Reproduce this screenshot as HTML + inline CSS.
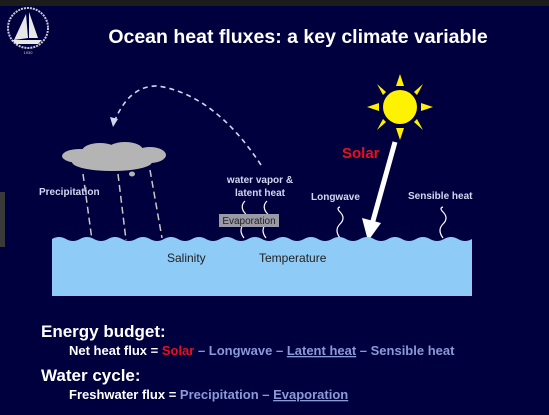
<!DOCTYPE html>
<html><head><meta charset="utf-8"><style>
body{margin:0;width:549px;height:415px;overflow:hidden;background:#00003f;font-family:"Liberation Sans",sans-serif}
svg{display:block}
</style></head><body>
<svg width="549" height="415" viewBox="0 0 549 415">
<rect x="0" y="0" width="549" height="415" fill="#00003f"/>
<rect x="0" y="0" width="549" height="6" fill="#1c1c1c"/>
<rect x="0" y="192" width="5" height="55" fill="#3a3a3a"/>
<g>
<circle cx="28" cy="28" r="20" fill="none" stroke="#c8c8d8" stroke-width="2" stroke-dasharray="2 1"/>
<path d="M14 40 L26 14 L28 38 Z M29 12 L38 38 L29 38 Z" fill="#e8e8e8"/>
<path d="M12 40 L42 40 L38 44 L16 44Z" fill="#e8e8e8"/>
<text x="28" y="54" font-size="4" fill="#ccc" text-anchor="middle">1930</text>
</g>
<text x="298" y="43" font-size="19.5" font-weight="bold" fill="#fff" text-anchor="middle">Ocean heat fluxes: a key climate variable</text>
<g fill="#fff200">
<circle cx="400" cy="107" r="17"/>
<polygon points="400,74 396,86 404,86"/><polygon points="400,140 396,128 404,128"/>
<polygon points="367,107 379,103 379,111"/><polygon points="433,107 421,103 421,111"/>
<polygon points="377,84 386,92 383,95"/>
<polygon points="423,84 414,92 417,95"/>
<polygon points="377,130 386,122 383,119"/>
<polygon points="423,130 414,122 417,119"/>
</g>
<text x="342" y="158" font-size="15" font-weight="bold" fill="#e8101a">Solar</text>
<g>
<line x1="395" y1="142" x2="371" y2="228" stroke="#fff" stroke-width="5"/>
<polygon points="368,241 362,218 381,223" fill="#fff"/>
</g>
<path d="M261 165 Q215 95 158 86 Q128 85 113 125" fill="none" stroke="#d0d8f0" stroke-width="1.6" stroke-dasharray="5 4"/>
<polygon points="113,127 110,117 118,119" fill="#d0d8f0"/>
<g fill="#b4b4b4">
<ellipse cx="80" cy="156" rx="18" ry="7"/><ellipse cx="100" cy="151" rx="18" ry="8"/>
<ellipse cx="125" cy="150" rx="18" ry="8"/><ellipse cx="150" cy="155" rx="16" ry="8"/>
<ellipse cx="112" cy="162" rx="40" ry="9"/>
<ellipse cx="132" cy="174" rx="3" ry="2.5"/>
</g>
<g stroke="#c8c8c8" stroke-width="1.5" stroke-dasharray="7 4">
<line x1="83" y1="174" x2="92" y2="240"/><line x1="118" y1="174" x2="126" y2="240"/><line x1="150" y1="170" x2="162" y2="238"/>
</g>
<text x="39" y="195" font-size="10" font-weight="bold" fill="#d0d8f0">Precipitation</text>
<text x="260" y="183" font-size="10" font-weight="bold" fill="#d0d8f0" text-anchor="middle">water vapor &amp;</text>
<text x="260" y="196" font-size="10" font-weight="bold" fill="#d0d8f0" text-anchor="middle">latent heat</text>
<text x="311" y="200" font-size="10" font-weight="bold" fill="#d0d8f0">Longwave</text>
<text x="408" y="199" font-size="10" font-weight="bold" fill="#d0d8f0">Sensible heat</text>
<g fill="none" stroke="#fff" stroke-width="1.2">
<path d="M244 238 Q238 230 244 224 Q250 218 244 212 Q240 206 245 201"/>
<path d="M266 238 Q260 230 266 224 Q272 218 266 212 Q262 206 267 201"/>
<path d="M340 238 Q334 230 340 224 Q346 218 340 212 Q336 208 340 207"/>
<path d="M443 238 Q437 230 443 224 Q449 218 443 212 Q439 208 443 207"/>
</g>
<rect x="219" y="214" width="60" height="13" fill="#9a9aa6"/>
<text x="249" y="224" font-size="10" fill="#222" text-anchor="middle">Evaporation</text>
<path d="M52 239 Q59 235 66 239 T80 239 T94 239 T108 239 T122 239 T136 239 T150 239 T164 239 T178 239 T192 239 T206 239 T220 239 T234 239 T248 239 T262 239 T276 239 T290 239 T304 239 T318 239 T332 239 T346 239 T360 239 T374 239 T388 239 T402 239 T416 239 T430 239 T444 239 T458 239 T472 239 L472 296 L52 296 Z" fill="#8ecbf7"/>
<text x="167" y="262" font-size="12" fill="#222">Salinity</text>
<text x="259" y="262" font-size="12" fill="#222">Temperature</text>
<text x="41" y="337" font-size="17" font-weight="bold" fill="#fff">Energy budget:</text>
<text x="69" y="355" font-size="13" font-weight="bold" fill="#fff">Net heat flux = <tspan fill="#e8101a">Solar</tspan><tspan fill="#8a9ad8"> – Longwave – <tspan text-decoration="underline">Latent heat</tspan> – Sensible heat</tspan></text>
<text x="41" y="381" font-size="17" font-weight="bold" fill="#fff">Water cycle:</text>
<text x="69" y="399" font-size="13" font-weight="bold" fill="#fff">Freshwater flux = <tspan fill="#8a9ad8">Precipitation – <tspan text-decoration="underline">Evaporation</tspan></tspan></text>
</svg>
</body></html>
